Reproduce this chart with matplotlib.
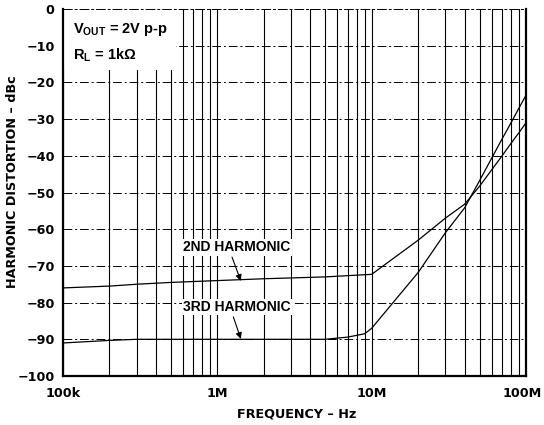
import matplotlib
matplotlib.use("Agg")
import matplotlib.pyplot as plt
import matplotlib.transforms as mtransforms
import numpy as np
from matplotlib.ticker import FixedLocator, LogLocator, NullFormatter

# frequency in Hz, distortion in dBc
freq_2nd = [1e5, 2e5, 3e5, 5e5, 1e6, 2e6, 5e6, 1e7, 2e7, 3e7, 4e7, 5e7, 6e7, 7e7, 8e7, 9e7, 1e8]
hd_2nd = [-76, -75.5, -75, -74.5, -74, -73.5, -73, -72.3, -63, -57, -53.2, -48.3, -43.8, -40, -36.6, -33.7, -31]

freq_3rd = [1e5, 2e5, 3e5, 5e5, 1e6, 2e6, 5e6, 7e6, 9e6, 1e7, 2e7, 3e7, 4e7, 5e7, 6e7, 7e7, 8e7, 9e7, 1e8]
hd_3rd = [-91, -90.3, -90, -90, -90, -90, -90, -89.4, -88.5, -87, -71.8, -61, -54.2, -46.8, -40.6, -35.4, -31, -27, -23.5]

x_ticks = [1e5, 1e6, 1e7, 1e8]
x_tick_labels = ["100k", "1M", "10M", "100M"]
y_ticks = list(range(-100, 1, 10))
y_tick_labels = ["0" if v == 0 else f"\u2212{abs(v)}" for v in y_ticks]

plt.rcParams["font.family"] = ["Liberation Sans", "DejaVu Sans"]
plt.rcParams["font.weight"] = "bold"
plt.rcParams["mathtext.fontset"] = "custom"
plt.rcParams["mathtext.bf"] = "Liberation Sans:bold"
label_font = dict(family="DejaVu Sans", size=9.2, weight="bold")

fig = plt.figure(figsize=(5.44, 4.25), dpi=100)
ax = fig.add_axes([63 / 544, 49 / 425, 463 / 544, 367 / 425])

ax.set_xscale("log")
ax.set_xlim(1e5, 1e8)
ax.set_ylim(-100, 0)

ax.xaxis.set_major_locator(FixedLocator(x_ticks))
ax.xaxis.set_minor_locator(LogLocator(base=10, subs=np.arange(2, 10)))
ax.xaxis.set_minor_formatter(NullFormatter())
ax.set_xticks(x_ticks)
ax.set_xticklabels(x_tick_labels, fontdict=label_font)
ax.set_yticks(y_ticks)
ax.set_yticklabels(y_tick_labels, fontdict=label_font)
ax.tick_params(axis="x", which="both", length=0, pad=8)
ax.tick_params(axis="y", which="both", length=0, pad=6)

# keep the last frequency label inside the figure
last_label = ax.get_xticklabels()[-1]
last_label.set_transform(last_label.get_transform()
                         + mtransforms.ScaledTranslation(-4 / 100, 0, fig.dpi_scale_trans))

ax.grid(True, axis="x", which="both", color="black", linewidth=0.8)
ax.grid(True, axis="y", which="major", color="black", linewidth=0.7, linestyle=(0, (9, 3, 2, 3)))

for side in ("left", "bottom", "right"):
    ax.spines[side].set_linewidth(1.6)
ax.spines["top"].set_linestyle((0, (9, 3, 2, 3)))
ax.spines["top"].set_linewidth(0.7)

ax.plot(freq_2nd, hd_2nd, color="black", linewidth=0.9, zorder=3)
ax.plot(freq_3rd, hd_3rd, color="black", linewidth=0.9, zorder=3)

ax.set_xlabel("FREQUENCY \u2013 Hz", fontdict=label_font, va="top")
ax.xaxis.set_label_coords(0.505, -0.087)
ax.set_ylabel("HARMONIC DISTORTION \u2013 dBc", fontdict=label_font)
ax.yaxis.set_label_coords(-0.095, 0.529)

ax.add_patch(plt.Rectangle((0, 0.835), 0.245, 0.165, transform=ax.transAxes,
                           facecolor="white", edgecolor="none", zorder=2.5))
ax.text(0.022, 0.945, r"V$_{\mathbf{OUT}}$ = 2V p-p", transform=ax.transAxes,
        fontsize=10.5, fontweight="bold", va="center", ha="left", zorder=4)
ax.text(0.022, 0.875, "R$_{\\mathbf{L}}$ = 1k\u03a9", transform=ax.transAxes,
        fontsize=10.5, fontweight="bold", va="center", ha="left", zorder=4)

text_box = dict(facecolor="white", edgecolor="none", pad=1)
arrow = dict(arrowstyle="-|>", color="black", linewidth=0.8, mutation_scale=9, shrinkA=0, shrinkB=0)
ax.text(6.0e5, -64.9, "2ND HARMONIC", fontsize=10, fontweight="bold",
        va="center", ha="left", bbox=text_box, zorder=4)
ax.annotate("", xy=(1.42e6, -74.1), xytext=(1.245e6, -67.6), arrowprops=arrow, zorder=4)
ax.text(6.0e5, -81.2, "3RD HARMONIC", fontsize=10, fontweight="bold",
        va="center", ha="left", bbox=text_box, zorder=4)
ax.annotate("", xy=(1.42e6, -89.9), xytext=(1.27e6, -83.9), arrowprops=arrow, zorder=4)

fig.savefig("out.png", dpi=100)
